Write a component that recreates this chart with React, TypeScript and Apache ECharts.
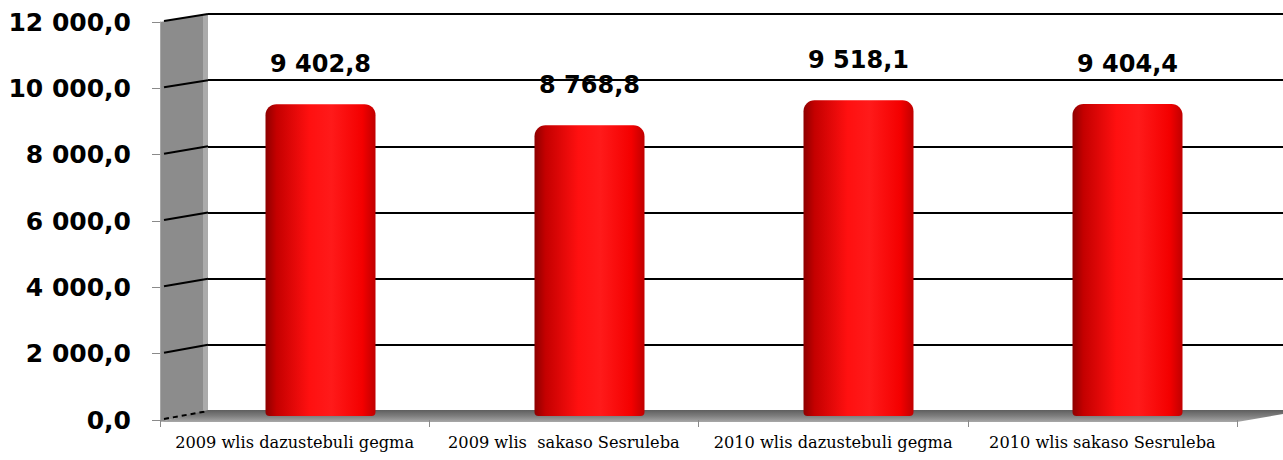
import React, { useEffect, useRef } from "react";
import * as echarts from "echarts";

const categories = [
  "2009 wlis dazustebuli gegma",
  "2009 wlis  sakaso Sesruleba",
  "2010 wlis dazustebuli gegma",
  "2010 wlis sakaso Sesruleba",
];
const values = [9402.8, 8768.8, 9518.1, 9404.4];
const yMin = 0;
const yMax = 12000;
const yStep = 2000;

function fmt(v: number): string {
  const s = Number(v).toFixed(1);
  const [ip, dp] = s.split(".");
  const withSpaces = ip.replace(/\B(?=(\d{3})+(?!\d))/g, " ");
  return withSpaces + "," + dp;
}

const FRONT = { left: 160, top: 22, width: 1077, height: 398 };
const BACK = { left: 208, top: 14, width: 1075, height: 397 };
const BARS = { left: 186, top: 18, width: 1076, height: 398 };

export default function App() {
  const ref = useRef<HTMLDivElement>(null);
  useEffect(() => {
    if (!ref.current) return;
    const chart = echarts.init(ref.current, undefined, { renderer: "svg" });
    const barGradient = new echarts.graphic.LinearGradient(0, 0, 1, 0, [
      { offset: 0, color: "#8e0000" },
      { offset: 0.1, color: "#c40000" },
      { offset: 0.4, color: "#ff1010" },
      { offset: 0.6, color: "#ff1a1a" },
      { offset: 0.88, color: "#f40000" },
      { offset: 1, color: "#c00000" },
    ]);
    chart.setOption({
      animation: false,
      backgroundColor: "#ffffff",
      grid: [
        { ...FRONT, containLabel: false },
        { ...BACK, containLabel: false },
        { ...BARS, containLabel: false },
      ],
      xAxis: [
        {
          gridIndex: 0,
          type: "category",
          data: categories,
          z: 5,
          axisLine: { show: false },
          axisTick: { show: true, length: 7, lineStyle: { color: "#8a8a8a" } },
          axisLabel: {
            interval: 0,
            margin: 14,
            color: "#000",
            fontFamily: "DejaVu Serif",
            fontSize: 16.2,
          },
          splitLine: { show: false },
        },
        { gridIndex: 1, type: "category", data: categories, show: false },
        { gridIndex: 2, type: "category", data: categories, show: false },
      ],
      yAxis: [
        {
          gridIndex: 0,
          type: "value",
          min: yMin,
          max: yMax,
          interval: yStep,
          z: 5,
          axisLine: { show: true, lineStyle: { color: "#a6a6a6", width: 1 } },
          axisTick: { show: true, length: 8, lineStyle: { color: "#8a8a8a" } },
          splitLine: { show: false },
          axisLabel: {
            formatter: (v: number) => fmt(v),
            margin: 29,
            color: "#000",
            fontFamily: "DejaVu Sans",
            fontWeight: "bold",
            fontSize: 25,
          },
        },
        {
          gridIndex: 1,
          type: "value",
          min: yMin,
          max: yMax,
          interval: yStep,
          axisLine: { show: false },
          axisTick: { show: false },
          axisLabel: { show: false },
          splitLine: {
            show: true,
            showMinLine: false,
            lineStyle: { color: "#000", width: 2 },
          },
        },
        {
          gridIndex: 2,
          type: "value",
          min: yMin,
          max: yMax,
          interval: yStep,
          show: false,
          splitLine: { show: false },
        },
      ],
      series: [
        {
          type: "bar",
          xAxisIndex: 2,
          yAxisIndex: 2,
          data: values,
          barWidth: 110,
          z: 3,
          itemStyle: { color: barGradient, borderRadius: [11, 11, 4, 4] },
          label: {
            show: true,
            position: "top",
            distance: 28,
            formatter: (p: any) => fmt(p.value),
            color: "#000",
            fontFamily: "DejaVu Sans",
            fontWeight: "bold",
            fontSize: 24,
          },
        },
      ],
    });

    const yf = (v: number) => chart.convertToPixel({ yAxisIndex: 0 } as any, v) as number;
    const yb = (v: number) => chart.convertToPixel({ yAxisIndex: 1 } as any, v) as number;
    const xf = FRONT.left;
    const xb = BACK.left;
    const xfr = FRONT.left + FRONT.width;
    const xbr = BACK.left + BACK.width;
    const ticks: number[] = [];
    for (let v = yMin; v <= yMax; v += yStep) ticks.push(v);

    const elements: any[] = [
      {
        type: "polygon",
        z: 1,
        shape: {
          points: [
            [xf, yf(yMax)],
            [xb, yb(yMax)],
            [xb, yb(yMin)],
            [xf, yf(yMin) + 2],
          ],
        },
        style: { fill: "#8c8c8c" },
      },
      {
        type: "rect",
        z: 1,
        shape: { x: xb - 5, y: yb(yMax), width: 5, height: yb(yMin) - yb(yMax) },
        style: { fill: "#ababab" },
      },
      {
        type: "polygon",
        z: 1,
        shape: {
          points: [
            [xf, yf(yMin) + 2],
            [xb, yb(yMin) - 1],
            [xbr, yb(yMin) - 1],
            [xbr, yb(yMin) + 3],
            [xfr, yf(yMin) + 2],
          ],
        },
        style: {
          fill: new echarts.graphic.LinearGradient(0, 0, 0, 1, [
            { offset: 0, color: "#5e5e5e" },
            { offset: 0.5, color: "#7e7e7e" },
            { offset: 1, color: "#a8a8a8" },
          ]),
        },
      },
    ];
    ticks.forEach((v) => {
      elements.push({
        type: "line",
        z: 2,
        shape: { x1: xf + 4, y1: yf(v) - 1, x2: xb, y2: yb(v) },
        style: {
          stroke: "#000",
          lineWidth: 2,
          lineDash: v === yMin ? [5, 4] : undefined,
        },
      });
    });
    chart.setOption({ graphic: { elements } });

    return () => chart.dispose();
  }, []);
  return (
    <div
      ref={ref}
      style={{ position: "fixed", left: 0, top: 0, width: 1283, height: 460, background: "#fff" }}
    />
  );
}
